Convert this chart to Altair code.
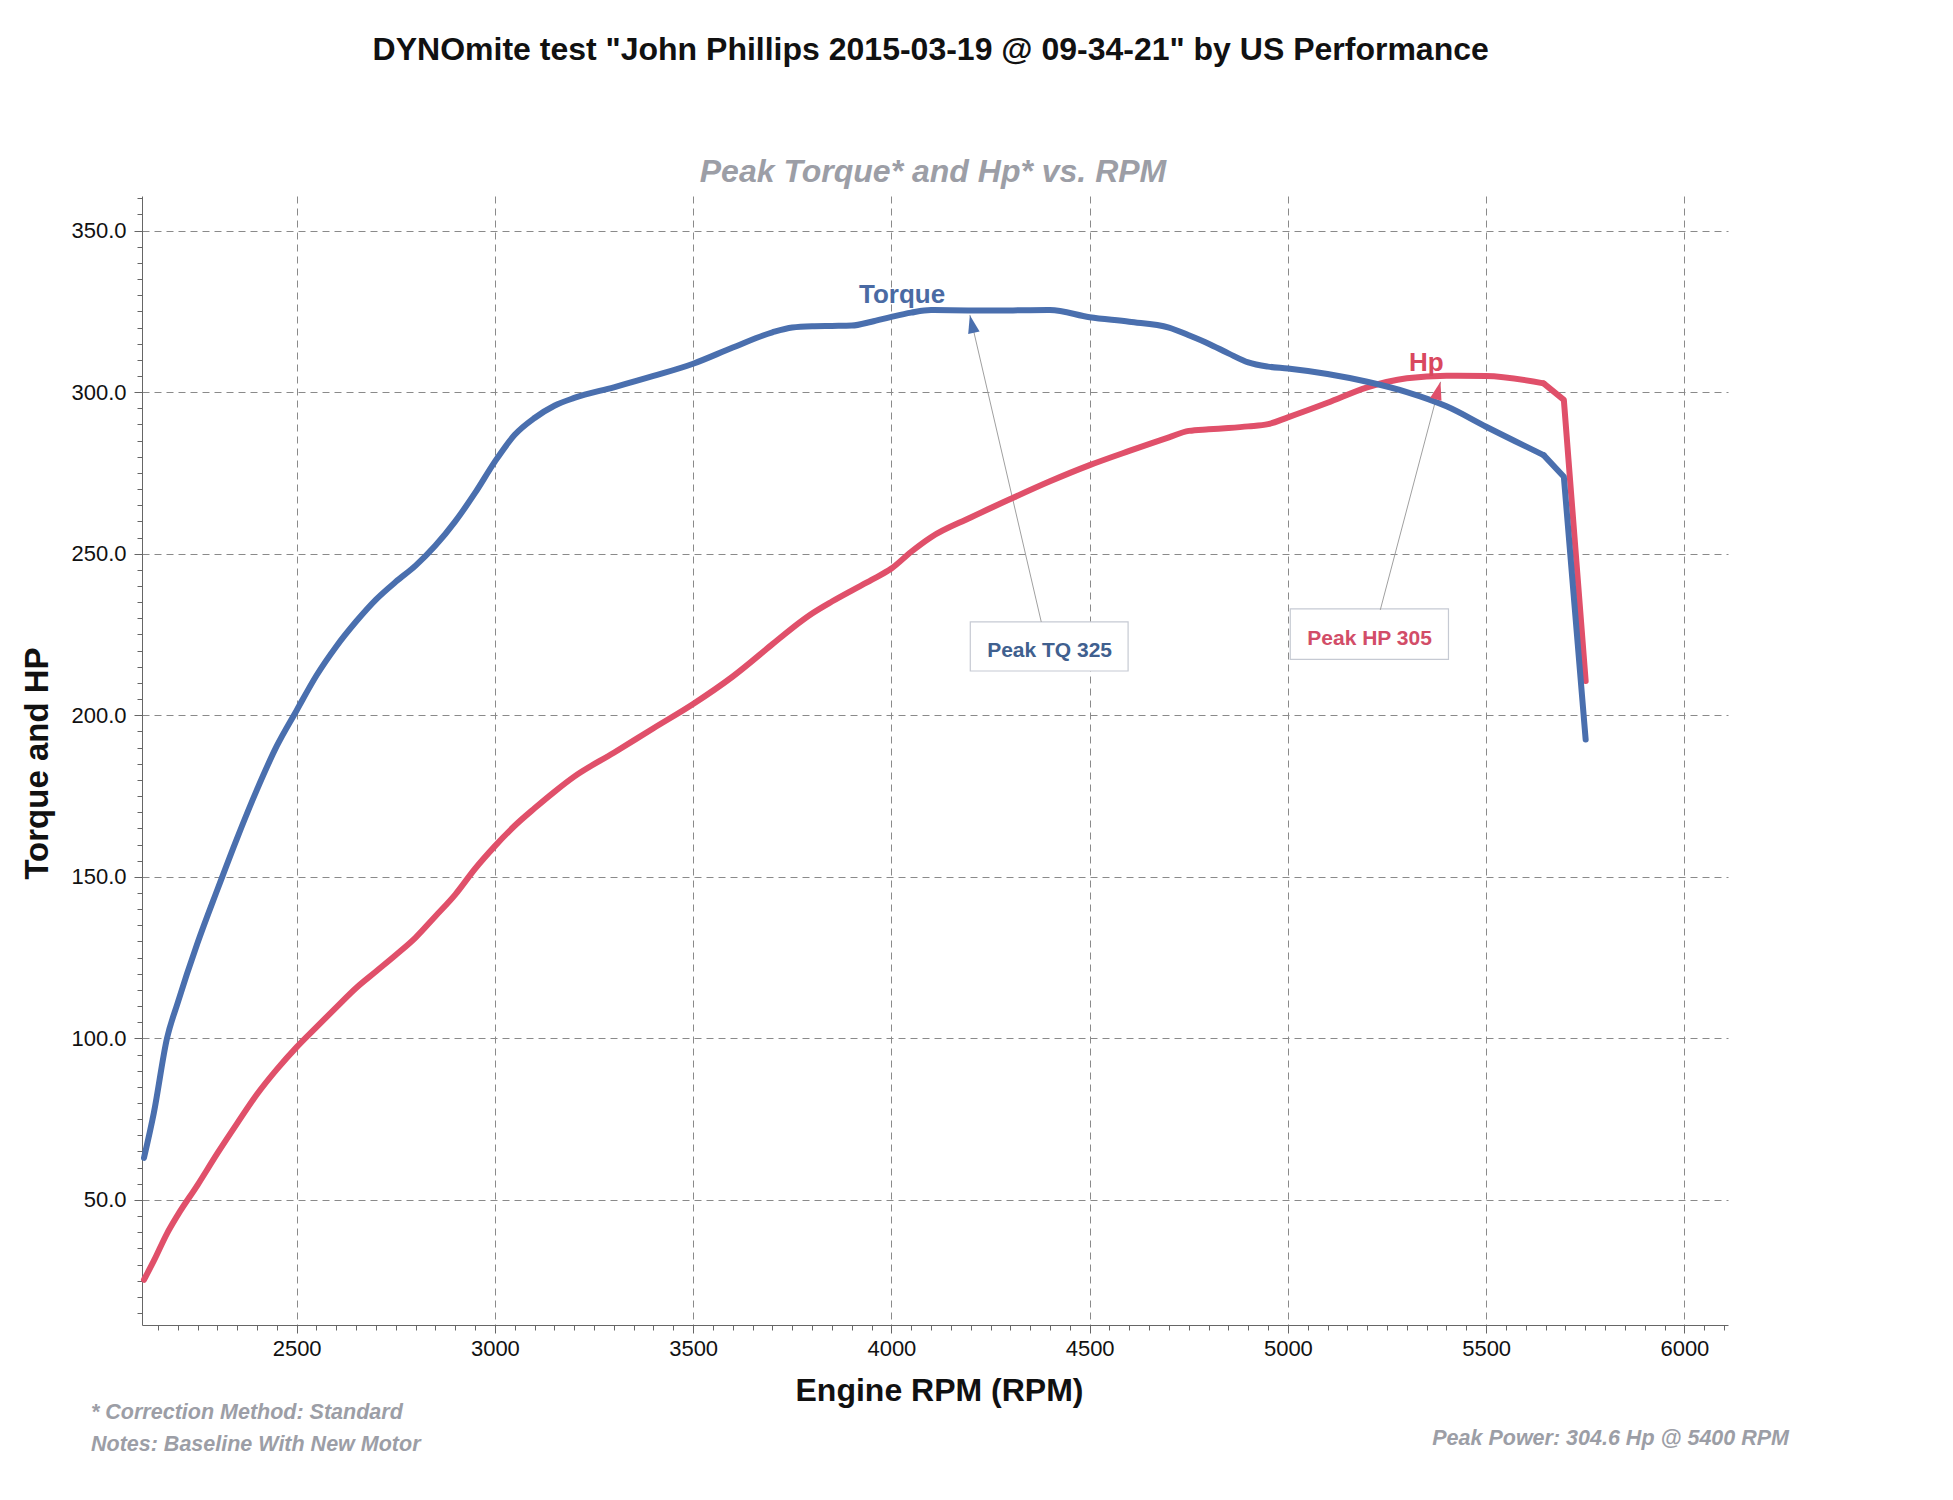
import altair as alt
import pandas as pd

FONT = "Liberation Sans, Arial, Helvetica, sans-serif"
BLUE = "#4a6fae"
RED = "#e0506a"
GRAY_TXT = "#9c9ea6"

# ---- data read from the dyno sheet ----
RPM = [2115, 2140, 2173, 2200, 2250, 2300, 2350, 2400, 2450, 2500,
       2550, 2600, 2650, 2700, 2750, 2800, 2850, 2900, 2950, 3000,
       3050, 3100, 3150, 3200, 3300, 3400, 3500, 3600, 3700, 3750,
       3800, 3850, 3900, 3950, 4000, 4050, 4100, 4200, 4300, 4400,
       4500, 4600, 4700, 4750, 4800, 4850, 4900, 4950, 5000, 5100,
       5200, 5300, 5400, 5500, 5645, 5696, 5751]
TORQUE = [63.0, 77.0, 100.0, 111.0, 129.5, 146.0, 162.0, 177.0, 190.5, 201.5,
          212.3, 221.3, 229.0, 235.8, 241.3, 246.3, 252.5, 260.0, 268.8, 278.5,
          286.8, 292.0, 295.8, 298.2, 301.5, 305.0, 308.8, 313.8, 318.5, 320.0,
          320.4, 320.5, 320.6, 321.8, 323.3, 324.6, 325.4, 325.3, 325.3, 325.4,
          323.2, 321.8, 320.0, 317.6, 315.0, 312.0, 309.2, 307.9, 307.3, 305.6,
          303.2, 300.0, 295.6, 289.3, 280.5, 273.8, 192.5]
HP = [25.3, 31.2, 39.6, 45.3, 54.6, 64.4, 73.7, 82.7, 90.4, 97.3,
      103.5, 109.6, 115.6, 120.7, 125.8, 131.2, 137.8, 144.5, 152.5, 159.5,
      165.8, 171.2, 176.3, 181.0, 188.4, 196.0, 203.5, 212.0, 222.0, 227.0,
      231.5, 235.2, 238.6, 241.9, 245.4, 250.6, 255.1, 261.2, 266.9, 272.4,
      277.4, 281.8, 286.0, 288.0, 288.5, 288.9, 289.4, 290.1, 292.2, 296.7,
      301.5, 304.3, 305.1, 305.0, 302.7, 297.6, 210.6]
TAIL_START = 54  # index where the run ends with straight segments (5645 rpm)

# annotations (in data units)
LABEL_TEXT = ["Torque", "Hp"]
LABEL_RPM = [4027, 5349]
LABEL_VAL = [327.6, 306.5]
LABEL_COLOR = ["#4a6aa3", "#d9485f"]

BOX_TEXT = ["Peak TQ 325", "Peak HP 305"]
BOX_RPM = [4199, 5006]
BOX_RPM2 = [4597, 5405]
BOX_VAL = [228.9, 232.9]
BOX_VAL2 = [213.7, 217.3]
BOX_TEXT_RPM = [4399, 5206]
BOX_TEXT_VAL = [217.9, 221.7]
BOX_TEXT_COLOR = ["#40608f", "#d24d68"]

ARROW_RPM = [4378, 5233]
ARROW_VAL = [228.9, 232.6]
ARROW_RPM2 = [4198, 5385]
ARROW_VAL2 = [323.9, 303.2]
HEAD_RPM = [4203, 5379]
HEAD_VAL = [321.1, 300.5]
HEAD_ANGLE = [347, 15]
HEAD_COLOR = [BLUE, RED]

TITLE = 'DYNOmite test "John Phillips 2015-03-19 @ 09-34-21" by US Performance'
SUBTITLE = "Peak Torque* and Hp* vs. RPM"
NOTE1 = "* Correction Method: Standard"
NOTE2 = "Notes: Baseline With New Motor"
NOTE3 = "Peak Power: 304.6 Hp @ 5400 RPM"

X_TICKS = list(range(2150, 6101, 50))
Y_TICKS = list(range(15, 361, 5))

# ---- scales / axes ----
xs = alt.Scale(domain=[2110, 6110], nice=False, zero=False)
ys = alt.Scale(domain=[11.3, 360.7], nice=False, zero=False)

x_axis = alt.Axis(
    values=X_TICKS,
    title="Engine RPM (RPM)",
    labelExpr="datum.value % 500 === 0 ? '' + datum.value : ''",
    tickSize={"condition": {"test": "datum.value % 500 === 0", "value": 8}, "value": 5},
    gridOpacity={"condition": {"test": "datum.value % 500 === 0", "value": 1}, "value": 0},
    gridDash=[7, 5], gridColor="#8a8a8a", gridWidth=1,
    domainColor="#666666", tickColor="#666666",
    labelFont=FONT, labelFontSize=22, labelColor="#111111",
    labelPadding=5, labelOverlap=False, labelFlush=False,
    titleFont=FONT, titleFontSize=32, titleFontWeight="bold", titleColor="#111111",
    titleBaseline="alphabetic", titleY=75, titleX=797,
)
y_axis = alt.Axis(
    values=Y_TICKS,
    title="Torque and HP",
    labelExpr="datum.value % 50 === 0 ? format(datum.value, '.1f') : ''",
    tickSize={"condition": {"test": "datum.value % 50 === 0", "value": 8}, "value": 5},
    gridOpacity={"condition": {"test": "datum.value % 50 === 0", "value": 1}, "value": 0},
    gridDash=[7, 5], gridColor="#8a8a8a", gridWidth=1,
    domainColor="#666666", tickColor="#666666",
    labelFont=FONT, labelFontSize=22, labelColor="#111111",
    labelPadding=8, labelOverlap=False, labelFlush=False,
    titleFont=FONT, titleFontSize=33, titleFontWeight="bold", titleColor="#111111",
    titleAngle=270, titleBaseline="alphabetic", titleAlign="center",
    titleX=-95, titleY=567,
)

X = alt.X("rpm:Q", scale=xs, axis=x_axis)
Y = alt.Y("value:Q", scale=ys, axis=y_axis)

hp_main = pd.DataFrame({"rpm": RPM[:TAIL_START + 1], "value": HP[:TAIL_START + 1]})
hp_tail = pd.DataFrame({"rpm": RPM[TAIL_START:], "value": HP[TAIL_START:]})
tq_main = pd.DataFrame({"rpm": RPM[:TAIL_START + 1], "value": TORQUE[:TAIL_START + 1]})
tq_tail = pd.DataFrame({"rpm": RPM[TAIL_START:], "value": TORQUE[TAIL_START:]})

lab_df = pd.DataFrame({"rpm": LABEL_RPM, "value": LABEL_VAL, "txt": LABEL_TEXT, "c": LABEL_COLOR})
box_df = pd.DataFrame({"rpm": BOX_RPM, "rpm2": BOX_RPM2, "value": BOX_VAL, "value2": BOX_VAL2})
btxt_df = pd.DataFrame({"rpm": BOX_TEXT_RPM, "value": BOX_TEXT_VAL, "txt": BOX_TEXT, "c": BOX_TEXT_COLOR})
arr_df = pd.DataFrame({"rpm": ARROW_RPM, "rpm2": ARROW_RPM2, "value": ARROW_VAL, "value2": ARROW_VAL2})
head_df = pd.DataFrame({"rpm": HEAD_RPM, "value": HEAD_VAL, "ang": HEAD_ANGLE, "c": HEAD_COLOR})


def curve(df, color, interp):
    return alt.Chart(df).mark_line(color=color, strokeWidth=6, strokeCap="round",
                                   strokeJoin="round", interpolate=interp).encode(x=X, y=Y)


hp_line = curve(hp_main, RED, "monotone") + curve(hp_tail, RED, "linear")
tq_line = curve(tq_main, BLUE, "monotone") + curve(tq_tail, BLUE, "linear")

boxes = alt.Chart(box_df).mark_rect(fill="white", stroke="#c6cad3", strokeWidth=1.2).encode(
    x=X, x2="rpm2:Q", y=Y, y2="value2:Q")
arrows = alt.Chart(arr_df).mark_rule(color="#a0a0a0", strokeWidth=1).encode(
    x=X, x2="rpm2:Q", y=Y, y2="value2:Q")
heads = alt.Chart(head_df).mark_point(shape="M0,-1L0.65,1L-0.65,1Z", size=324, filled=True,
                                      opacity=1).encode(
    x=X, y=Y, angle=alt.Angle("ang:Q", scale=None), color=alt.Color("c:N", scale=None))
labels = alt.Chart(lab_df).mark_text(font=FONT, fontSize=26, fontWeight="bold",
                                     baseline="alphabetic", align="center").encode(
    x=X, y=Y, text="txt:N", color=alt.Color("c:N", scale=None))
box_txt = alt.Chart(btxt_df).mark_text(font=FONT, fontSize=21, fontWeight="bold",
                                       baseline="alphabetic", align="center").encode(
    x=X, y=Y, text="txt:N", color=alt.Color("c:N", scale=None))


def free_text(txt, x, y, size, color, align="center", italic=False):
    kw = dict(font=FONT, fontSize=size, fontWeight="bold", color=color,
              align=align, baseline="alphabetic")
    if italic:
        kw["fontStyle"] = "italic"
    return alt.Chart(pd.DataFrame({"t": [txt]})).mark_text(**kw).encode(
        text="t:N", x=alt.value(x), y=alt.value(y))


title = free_text(TITLE, 788.7, -136, 32, "#111111")
subtitle = free_text(SUBTITLE, 791, -14, 32, GRAY_TXT, italic=True)
note1 = free_text(NOTE1, -51, 1223, 21.5, GRAY_TXT, align="left", italic=True)
note2 = free_text(NOTE2, -51, 1255, 21.5, GRAY_TXT, align="left", italic=True)
note3 = free_text(NOTE3, 1647, 1249, 21.5, GRAY_TXT, align="right", italic=True)

chart = alt.layer(
    boxes, arrows, hp_line, tq_line, heads, labels, box_txt,
    title, subtitle, note1, note2, note3
).properties(
    width=1586, height=1129,
    autosize=alt.AutoSizeParams(type="none"),
    padding={"left": 134, "top": 188, "right": 210, "bottom": 150},
    background="white",
).configure_view(stroke=None)

chart.save("out.html", embed_options={"renderer": "svg", "actions": False})
